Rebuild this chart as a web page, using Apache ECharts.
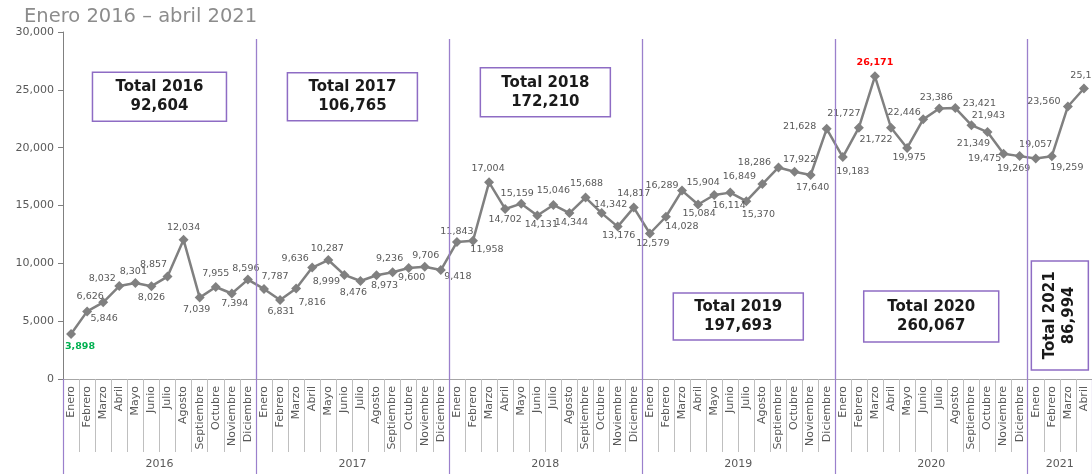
<!DOCTYPE html>
<html>
<head>
<meta charset="utf-8">
<script src="https://cdn.jsdelivr.net/npm/echarts@6/dist/echarts.min.js"></script>
<style>
  html, body { margin: 0; padding: 0; background: #fff; }
  #chart { width: 1092px; height: 474px; }
</style>
</head>
<body>
<div id="chart"></div>
<script>
// Monthly counts, January 2016 – April 2021
const monthNames = ['Enero', 'Febrero', 'Marzo', 'Abril', 'Mayo', 'Junio', 'Julio',
  'Agosto', 'Septiembre', 'Octubre', 'Noviembre', 'Diciembre'];
const years = ['2016', '2017', '2018', '2019', '2020', '2021'];
const v2016 = [3898, 5846, 6626, 8032, 8301, 8026, 8857, 12034, 7039, 7955, 7394, 8596];
const v2017 = [7787, 6831, 7816, 9636, 10287, 8999, 8476, 8973, 9236, 9600, 9706, 9418];
const v2018 = [11843, 11958, 17004, 14702, 15159, 14131, 15046, 14344, 15688, 14342, 13176, 14817];
const v2019 = [12579, 14028, 16289, 15084, 15904, 16114, 15370, 16849, 18286, 17922, 17640, 21628];
const v2020 = [19183, 21727, 26171, 21722, 19975, 22446, 23386, 23421, 21943, 21349, 19475, 19269];
const v2021 = [19057, 19259, 23560, 25118];
const yTicks = [0, 5000, 10000, 15000, 20000, 25000, 30000];

const yearValues = [v2016, v2017, v2018, v2019, v2020, v2021];

// Label placement around each point: [dx, dy] from the marker centre
const labelOffsets = [
  [9, 13], [17, 7], [-13, -6], [-17, -8], [-2, -11], [0, 11], [-14, -12], [0, -12], [-3, 12], [0, -13], [3, 10], [-2, -11],
  [11, -12], [1, 12], [16, 14], [-17, -9], [-1, -11], [-18, 7], [-7, 12], [8, 10], [-3, -14], [3, 10], [1, -11], [17, 6],
  [0, -10], [14, 9], [-1, -14], [0, 11], [-4, -10], [4, 9], [0, -14], [2, 9], [1, -14], [9, -9], [1, 9], [0, -14],
  [3, 10], [16, 10], [-20, -5], [1, 9], [-11, -13], [-1, 13], [12, 13], [-23, -8], [-24, -5], [5, -12], [2, 13], [-27, -2],
  [10, 14], [-15, -14], [0, -14], [-15, 12], [2, 10], [-19, -7], [-3, -11], [24, -5], [17, -10], [-14, 11], [-19, 5], [-6, 12],
  [0, -14], [15, 11], [-24, -5], [3, -13]
];
// Vertical level (in axis units) of each yearly total box
const boxLevels = [24400, 24400, 24800, 5400, 5400, 5500];
const boxSizes = [[134, 49], [130, 48], [130, 49], [130, 47], [135, 51], [57, 109]];

const FONT = 'DejaVu Sans';
const PURPLE = '#9b80cc';

const categories = [];
const values = [];
const yearStart = [];
yearValues.forEach((arr, yi) => {
  yearStart.push(values.length);
  arr.forEach((v, mi) => { categories.push(monthNames[mi]); values.push(v); });
});
const total = values.length;
const yearEdges = yearStart.concat([total]);
const yearMid = yearValues.map((arr, i) => yearStart[i] + arr.length / 2);
const fmt = v => v.toLocaleString('en-US');

const maxIdx = values.indexOf(Math.max(...values));
const minIdx = values.indexOf(Math.min(...values));

const seriesData = values.map((v, i) => {
  const item = { value: v, label: { offset: labelOffsets[i] } };
  if (i === maxIdx) item.label.color = '#ff0000', item.label.fontWeight = 'bold';
  if (i === minIdx) item.label.color = '#00b050', item.label.fontWeight = 'bold';
  return item;
});

const chart = echarts.init(document.getElementById('chart'), null, { renderer: 'canvas' });

chart.setOption({
  animation: false,
  title: {
    text: 'Enero 2016 – abril 2021',
    left: 19, top: 2,
    textStyle: { fontFamily: FONT, fontSize: 19.5, fontWeight: 'normal', color: '#8c8c8c' }
  },
  grid: { left: 63, top: 32, width: 1031, height: 347, containLabel: false },
  xAxis: [
    {
      type: 'category',
      data: categories,
      boundaryGap: true,
      position: 'bottom',
      axisLine: { show: true, lineStyle: { color: '#a6a6a6', width: 1 } },
      axisTick: { show: true, interval: 0, length: 73, lineStyle: { color: '#bfbfbf', width: 1 } },
      axisLabel: {
        interval: 0, rotate: 90, margin: 7,
        fontFamily: FONT, fontSize: 11, color: '#595959'
      },
      splitLine: { show: false }
    },
    {
      type: 'value',
      min: 0, max: total,
      position: 'bottom',
      axisLine: { show: false },
      axisTick: {
        show: true, length: 95, customValues: yearEdges,
        lineStyle: { color: PURPLE, width: 1.2 }
      },
      axisLabel: {
        show: true, margin: 80, customValues: yearMid,
        formatter: v => years[yearMid.indexOf(v)] || '',
        fontFamily: FONT, fontSize: 11, color: '#595959'
      },
      splitLine: { show: false }
    }
  ],
  yAxis: {
    type: 'value',
    min: yTicks[0], max: yTicks[yTicks.length - 1], interval: 5000,
    axisLine: { show: true, lineStyle: { color: '#808080', width: 1 } },
    axisTick: { show: true, length: 5, lineStyle: { color: '#808080' } },
    axisLabel: { margin: 9, fontFamily: FONT, fontSize: 11, color: '#595959', formatter: fmt },
    splitLine: { show: false }
  },
  series: [
    {
      type: 'line',
      xAxisIndex: 0,
      data: seriesData,
      symbol: 'diamond',
      symbolSize: 10,
      itemStyle: { color: '#808080' },
      lineStyle: { color: '#808080', width: 2.5 },
      label: {
        show: true, position: 'inside',
        fontFamily: FONT, fontSize: 9.5, color: '#595959',
        formatter: p => fmt(p.value)
      },
      z: 3
    },
    {
      // year dividers inside the plot
      type: 'line',
      xAxisIndex: 1,
      data: [],
      silent: true,
      markLine: {
        symbol: 'none',
        silent: true,
        label: { show: false },
        lineStyle: { color: PURPLE, width: 1.3, type: 'solid' },
        data: yearStart.slice(1).map(x => [{ coord: [x, 29400] }, { coord: [x, 0] }])
      },
      z: 1
    }
  ]
});

// Yearly total boxes, sums taken from the monthly values
function drawTotals() {
  const els = [];
  yearValues.forEach((arr, i) => {
    const sum = arr.reduce((a, b) => a + b, 0);
    const cx = chart.convertToPixel({ xAxisIndex: 1 }, yearMid[i]);
    const cy = chart.convertToPixel({ yAxisIndex: 0 }, boxLevels[i]);
    const [w, h] = boxSizes[i];
    const vertical = h > w;
    els.push({
      type: 'rect',
      shape: { x: cx - w / 2, y: cy - h / 2, width: w, height: h },
      style: { fill: '#ffffff', stroke: '#8e6cc4', lineWidth: 1.5 },
      z: 10
    });
    els.push({
      type: 'text',
      x: cx, y: cy,
      rotation: vertical ? Math.PI / 2 : 0,
      style: {
        text: 'Total ' + years[i] + '\n' + fmt(sum),
        x: 0, y: 0,
        align: 'center', verticalAlign: 'middle',
        fontFamily: FONT, fontSize: 15, fontWeight: 'bold',
        lineHeight: 19, fill: '#1a1a1a'
      },
      z: 11
    });
  });
  chart.setOption({ graphic: { elements: els } });
}
drawTotals();
</script>
</body>
</html>
